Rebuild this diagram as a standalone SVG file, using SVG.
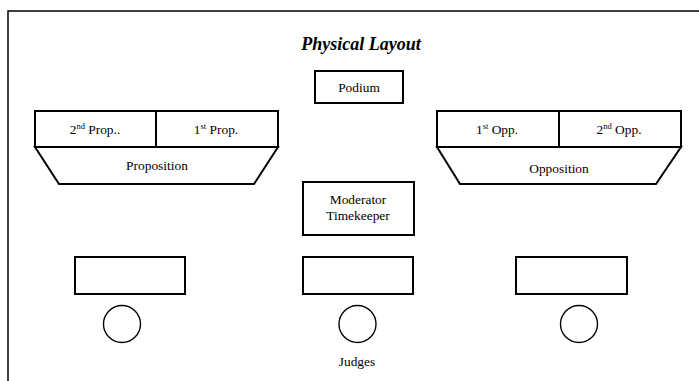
<svg xmlns="http://www.w3.org/2000/svg" width="699" height="381" viewBox="0 0 699 381" font-family="'Liberation Serif', 'DejaVu Serif', serif">
<style>
.b{fill:#fff;stroke:#000;stroke-width:2}
.c{fill:#fff;stroke:#000;stroke-width:1.4}
text{font-family:'Liberation Serif', 'Times New Roman', 'DejaVu Serif', serif;font-size:13.4px;fill:#000;text-anchor:middle}
.t{font-size:18px;font-weight:bold;font-style:italic}
.s{font-size:8.5px}
</style>
<rect width="699" height="381" fill="#fff"/>
<path d="M8,381 V11 H699" fill="none" stroke="#000" stroke-width="1.5"/>
<text class="t" x="361" y="50">Physical Layout</text>
<g id="podium"><rect class="b" x="315" y="71" width="88" height="32"/><text x="359" y="92">Podium</text></g>
<g id="proposition">
<rect class="b" x="35" y="111" width="243" height="36"/>
<line x1="156" y1="111" x2="156" y2="147" stroke="#000" stroke-width="2"/>
<text x="95" y="134">2<tspan class="s" dy="-5">nd</tspan><tspan dy="5"> Prop..</tspan></text>
<text x="216" y="134">1<tspan class="s" dy="-5">st</tspan><tspan dy="5"> Prop.</tspan></text>
<polygon class="b" points="35,147 278,147 254,184 59,184"/>
<text x="157" y="170">Proposition</text>
</g>
<g id="opposition">
<rect class="b" x="437" y="111" width="244" height="36"/>
<line x1="559" y1="111" x2="559" y2="147" stroke="#000" stroke-width="2"/>
<text x="497" y="134">1<tspan class="s" dy="-5">st</tspan><tspan dy="5"> Opp.</tspan></text>
<text x="619" y="134">2<tspan class="s" dy="-5">nd</tspan><tspan dy="5"> Opp.</tspan></text>
<polygon class="b" points="437,147 681,147 656,184 460,184"/>
<text x="559" y="173">Opposition</text>
</g>
<g id="moderator"><rect class="b" x="303" y="182" width="111" height="53"/><text x="358" y="204">Moderator</text><text x="358" y="220">Timekeeper</text></g>
<g id="judge1"><rect class="b" x="75" y="257" width="110" height="37"/><circle class="c" cx="122" cy="324" r="18.5"/></g>
<g id="judge2"><rect class="b" x="303" y="257" width="110" height="37"/><circle class="c" cx="357.5" cy="324" r="18.5"/></g>
<g id="judge3"><rect class="b" x="516" y="257" width="111" height="37"/><circle class="c" cx="579" cy="324" r="18.5"/></g>
<text x="357" y="366">Judges</text>
<g id="connectors"/>
</svg>
